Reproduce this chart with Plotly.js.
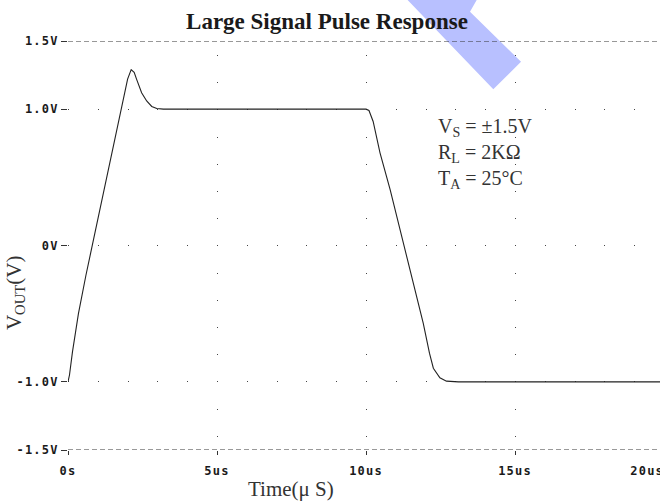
<!DOCTYPE html>
<html>
<head>
<meta charset="utf-8">
<script src="https://cdn.plot.ly/plotly-3.0.1.min.js"></script>
<style>
  html, body { margin: 0; padding: 0; overflow: hidden; background: #fff; }
  #chart { width: 670px; height: 504px; }
  .xtick text, .ytick text { letter-spacing: 1.2px; }
</style>
</head>
<body>
<div id="chart"></div>
<script>
// Time in microseconds
const timeUs = [0, 0.05, 0.15, 0.35, 0.6, 0.85, 1.1, 1.35, 1.6, 1.85, 2.0, 2.12, 2.22, 2.30, 2.47, 2.64, 2.81, 2.98, 3.2,
                10.0, 10.1, 10.24, 10.47, 10.81, 11.08, 11.37, 11.64, 11.92, 12.13, 12.26, 12.48, 12.7, 13.1, 20];
// Output voltage (V)
const vOut = [-1.0, -0.95, -0.78, -0.50, -0.22, 0.04, 0.30, 0.56, 0.82, 1.08, 1.22, 1.29, 1.27, 1.22, 1.12, 1.06, 1.02, 1.005, 1.0,
              1.0, 0.99, 0.91, 0.68, 0.41, 0.17, -0.08, -0.32, -0.57, -0.79, -0.90, -0.97, -0.995, -1.0, -1.0];

const xTickVals = [0, 5, 10, 15, 20];
const xTickText = ['0s', '5us', '10us', '15us', '20us\u00a0\u00a0\u00a0\u00a0'];
const yTickVals = [-1.5, -1.0, 0, 1.0, 1.5];
const yTickText = ['-1.5V', '-1.0V', '0V', '1.0V', '1.5V'];

const titleText = 'Large Signal Pulse Response';
const xTitle = 'Time(\u03bc S)';
const yTitle = 'V<sub>OUT</sub>(V)';
const conditions = ['V<sub>S</sub> = \u00b11.5V', 'R<sub>L</sub> = 2K\u03a9', 'T<sub>A</sub> = 25\u00b0C'];

const tickFont = {family: 'DejaVu Sans Mono', size: 12, color: '#1a1a1a', weight: 'bold'};
const serif = 'Liberation Serif, Times New Roman, serif';

const trace = {
  x: timeUs, y: vOut, type: 'scatter', mode: 'lines',
  line: {color: '#222', width: 1.1},
  hoverinfo: 'skip', showlegend: false
};

const layout = {
  width: 670, height: 504,
  margin: {l: 68, r: 6, t: 41, b: 54},
  paper_bgcolor: '#fff', plot_bgcolor: 'rgba(0,0,0,0)',
  title: {
    text: '<b>' + titleText + '</b>',
    font: {family: serif, size: 23, color: '#1a1a1a'},
    xref: 'container', x: 0.488, xanchor: 'center',
    yref: 'container', y: 0.958, yanchor: 'middle'
  },
  xaxis: {
    range: [0, 20], tickvals: xTickVals, ticktext: xTickText,
    showgrid: true, gridcolor: '#444', gridwidth: 1, griddash: '0px,14px,1px,12.2px',
    zeroline: false, showline: false,
    ticks: 'outside', ticklen: 4, tickcolor: '#333', tickwidth: 1,
    ticklabelstandoff: 6, ticklabeloverflow: 'allow',
    tickfont: tickFont, fixedrange: true
  },
  yaxis: {
    range: [-1.5, 1.5], tickvals: yTickVals, ticktext: yTickText,
    showgrid: true, gridcolor: '#444', gridwidth: 1, griddash: '1px,28.8px',
    zeroline: false, showline: false,
    ticks: 'outside', ticklen: 6, tickcolor: '#333', tickwidth: 1,
    tickfont: tickFont, fixedrange: true
  },
  shapes: [
    {type: 'path', layer: 'below', xref: 'paper', yref: 'paper',
     path: 'M0.5537,1.1247 L0.6953,1.1247 L0.6745,1.0716 L0.7601,0.9494 L0.7136,0.8819 Z',
     fillcolor: '#b8c0ff', line: {width: 0}},
    {type: 'line', layer: 'below', xref: 'paper', yref: 'y', x0: 0, x1: 1, y0: 1.5, y1: 1.5,
     line: {color: '#333', width: 1, dash: '5px,3px'}},
    {type: 'line', layer: 'below', xref: 'paper', yref: 'y', x0: 0, x1: 1, y0: -1.5, y1: -1.5,
     line: {color: '#333', width: 1, dash: '5px,3px'}}
  ],
  annotations: [
    {text: yTitle, textangle: -90, xref: 'paper', yref: 'paper', x: -0.089, y: 0.386,
     xanchor: 'center', yanchor: 'middle', showarrow: false,
     font: {family: serif, size: 21, color: '#333'}},
    {text: xTitle, xref: 'paper', yref: 'paper', x: 0.374, y: -0.095,
     xanchor: 'center', yanchor: 'middle', showarrow: false,
     font: {family: serif, size: 21, color: '#333'}},
    {text: conditions.join('<br>'), align: 'left', xref: 'paper', yref: 'paper', x: 0.617, y: 0.825,
     xanchor: 'left', yanchor: 'top', showarrow: false,
     font: {family: serif, size: 20, color: '#333'}}
  ]
};

Plotly.newPlot('chart', [trace], layout, {displayModeBar: false, staticPlot: true});
</script>
</body>
</html>
